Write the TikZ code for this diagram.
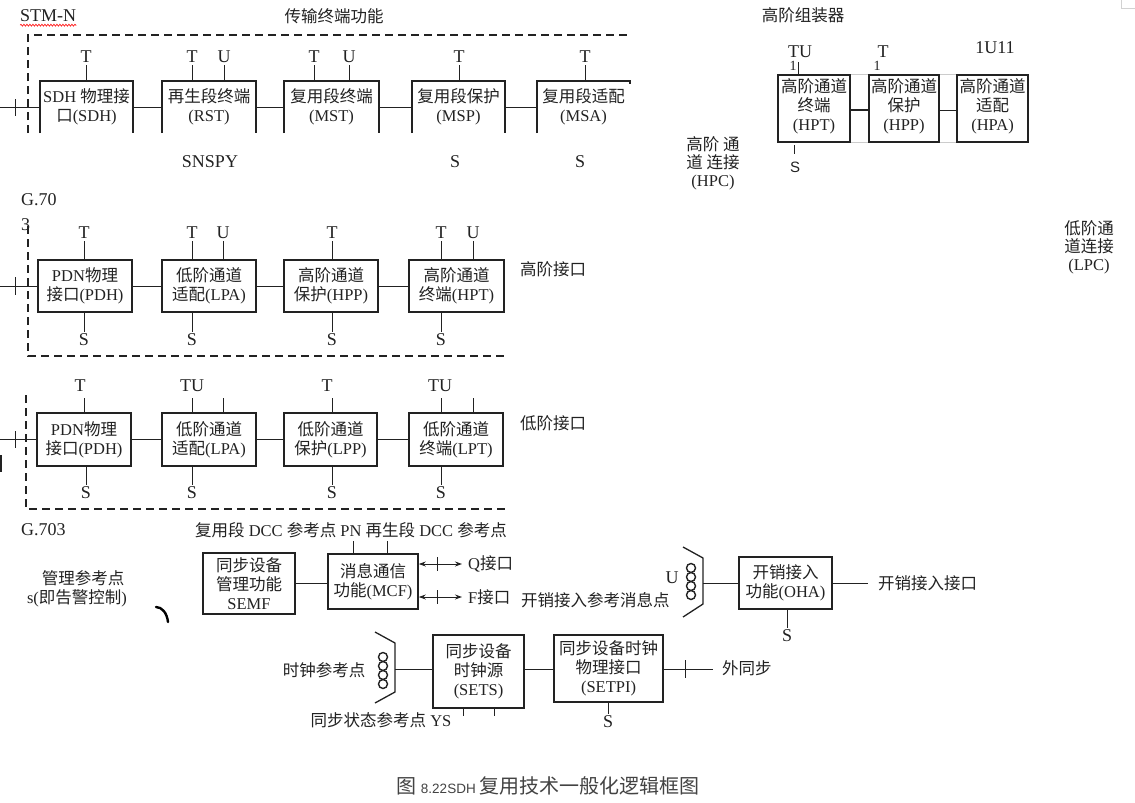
\documentclass[tikz,border=0pt]{standalone}
\usepackage{fontspec}
\setmainfont{Liberation Serif}
\newfontfamily\cjk{Noto Sans CJK SC}
\newfontfamily\lsans{Liberation Sans}
\usetikzlibrary{arrows.meta,decorations.pathmorphing}
\newcommand\zh[1]{{\cjk #1}}
\newcommand\fsz{\fontsize{16.5}{19}\selectfont}
\definecolor{ink}{HTML}{222222}
\tikzset{
  every node/.style={font=\fsz, text=ink, inner sep=0pt},
  blk/.style={draw=ink, line width=1.6pt, align=center},
  openbox/.style={align=center},
  conn/.style={draw=ink, line width=1pt},
  frame/.style={draw=ink, line width=1.8pt, dash pattern=on 8pt off 5pt},
  big/.style={font=\fontsize{18}{20}\selectfont},
  dblarrow/.style={conn, {Stealth[length=7pt,width=5pt]}-{Stealth[length=7pt,width=5pt]}},
  coilc/.style={draw=ink, line width=1.4pt},
  faint/.style={draw=gray!40, line width=0.8pt}
}
\begin{document}
\begin{tikzpicture}[x=1pt,y=-1pt]
\useasboundingbox (0,0) rectangle (1135,803);
\fill[white] (0,0) rectangle (1135,803);
\draw[gray!35, line width=0.8pt] (1121,-2) rectangle (1137,8);

% ===================== Row 1 : STM-N =====================
\node[anchor=west, big] (stmn) at (20,16) {STM-N};
\draw[red, line width=0.6pt, decorate, decoration={snake, amplitude=1pt, segment length=3pt}] ([yshift=-3pt]stmn.south west) -- ([yshift=-3pt]stmn.south east);
\node (title1) at (334,16) {\zh{传输终端功能}};
\draw[frame] (28,133) -- (28,35) -- (630,35);

\node[openbox, minimum width=93, minimum height=52] (sdh) at (86.5,107) {SDH \zh{物理接}\\\zh{口}(SDH)};
\node[openbox, minimum width=94, minimum height=52] (rst) at (209,107) {\zh{再生段终端}\\(RST)};
\node[openbox, minimum width=95, minimum height=52] (mst) at (331.5,107) {\zh{复用段终端}\\(MST)};
\node[openbox, minimum width=93, minimum height=52] (msp) at (458.5,107) {\zh{复用段保护}\\(MSP)};
\node[openbox, minimum width=93, minimum height=52] (msa) at (583.5,107) {\zh{复用段适配}\\(MSA)};
\foreach \b in {sdh,rst,mst,msp}{
  \draw[draw=ink, line width=1.6pt] (\b.south west) -- (\b.north west) -- (\b.north east) -- (\b.south east);
}
\draw[draw=ink, line width=1.6pt] (msa.south west) -- (msa.north west) -- (msa.north east) -- ++(0,3);
\draw[conn] (sdh.east) -- (rst.west);
\draw[conn] (rst.east) -- (mst.west);
\draw[conn] (mst.east) -- (msp.west);
\draw[conn] (msp.east) -- (msa.west);
\coordinate (in1) at (0,107);
\draw[conn] (in1) -- (sdh.west);
\draw[conn] (15,99) -- (15,116);

\node[big] (t1a) at (86,57) {T};
\node[big] (t1b) at (192,57) {T};
\node[big] (u1b) at (224,57) {U};
\node[big] (t1c) at (314,57) {T};
\node[big] (u1c) at (349,57) {U};
\node[big] (t1d) at (459,57) {T};
\node[big] (t1e) at (585,57) {T};
\foreach \l/\b in {t1a/sdh,t1b/rst,u1b/rst,t1c/mst,u1c/mst,t1d/msp,t1e/msa}{
  \draw[conn] ([yshift=-2pt]\l.south) -- (\l.south |- \b.north);
}
\node[big] (snspy) at (210,162) {SNSPY};
\node[big] (s1d) at (455,162) {S};
\node[big] (s1e) at (580,162) {S};

% ===================== HPC assembler (top right) =====================
\node (hoa) at (803,15) {\zh{高阶组装器}};
\node[blk, line width=1.3pt, minimum width=72, minimum height=67] (hpt1) at (814,108.5) {};
\node[blk, line width=1.3pt, minimum width=70, minimum height=67] (hpp1) at (904,108.5) {};
\node[blk, line width=1.3pt, minimum width=71, minimum height=67] (hpa1) at (992.5,108.5) {};
\node[align=center, anchor=north] (hpt1t) at (814,78) {\zh{高阶通道}\\\zh{终端}\\(HPT)};
\node[align=center, anchor=north] (hpp1t) at (904,78) {\zh{高阶通道}\\\zh{保护}\\(HPP)};
\node[align=center, anchor=north] (hpa1t) at (992.5,78) {\zh{高阶通道}\\\zh{适配}\\(HPA)};
\draw[draw=ink, line width=2pt] ([yshift=-1.5pt]hpt1.east) -- ([yshift=-1.5pt]hpp1.west);
\draw[conn] ([yshift=-1.5pt]hpp1.east) -- ([yshift=-1.5pt]hpa1.west);
\draw[faint] (hpt1.north east) -- (hpp1.north west);
\draw[faint] (hpt1.south east) -- (hpp1.south west);
\draw[faint] (hpp1.north east) -- (hpa1.north west);
\draw[faint] (hpp1.south east) -- (hpa1.south west);
\node[big] (tu1) at (800,52) {TU};
\node[font=\fontsize{14}{16}\selectfont] (one1) at (793,66) {1};
\draw[draw=ink, line width=0.8pt] (798,62) -- (798,75);
\node[big] (t2) at (883,52) {T};
\node[font=\fontsize{14}{16}\selectfont] (one2) at (877,66) {1};
\node[big] (tu11) at (995,48) {1U11};
\draw[draw=ink, line width=0.8pt] (794,145) -- (794,154);
\node[font=\lsans\fontsize{15}{18}\selectfont] (shpt) at (795,167) {S};
\node[align=center, font=\fontsize{16.5}{18}\selectfont] (hpc) at (713,163) {\zh{高阶 通}\\\zh{道 连接}\\(HPC)};
\node[align=center, font=\fontsize{16.5}{18}\selectfont] (lpc) at (1089,247) {\zh{低阶通}\\\zh{道连接}\\(LPC)};

% ===================== Row 2 : high-order interface =====================
\node[anchor=west, big] (g70) at (21,200) {G.70};
\node[anchor=west, big] (g3) at (21,225) {3};
\draw[frame] (28,226) -- (28,356) -- (505,356);
\node[blk, minimum width=94, minimum height=52] (pdh2) at (85,286) {PDN\zh{物理}\\\zh{接口}(PDH)};
\node[blk, minimum width=94, minimum height=52] (lpa2) at (209,286) {\zh{低阶通道}\\\zh{适配}(LPA)};
\node[blk, minimum width=94, minimum height=52] (hpp2) at (331,286) {\zh{高阶通道}\\\zh{保护}(HPP)};
\node[blk, minimum width=95, minimum height=52] (hpt2) at (456.5,286) {\zh{高阶通道}\\\zh{终端}(HPT)};
\draw[conn] (pdh2.east) -- (lpa2.west);
\draw[conn] (lpa2.east) -- (hpp2.west);
\draw[conn] (hpp2.east) -- (hpt2.west);
\coordinate (in2) at (0,286);
\draw[conn] (in2) -- (pdh2.west);
\draw[conn] (15,277) -- (15,295);
\node[big] (t2a) at (84,233) {T};
\node[big] (t2b) at (192,233) {T};
\node[big] (u2b) at (223,233) {U};
\node[big] (t2c) at (332,233) {T};
\node[big] (t2d) at (441,233) {T};
\node[big] (u2d) at (473,233) {U};
\foreach \l/\b in {t2a/pdh2,t2b/lpa2,u2b/lpa2,t2c/hpp2,t2d/hpt2,u2d/hpt2}{
  \draw[conn] ([yshift=-2pt]\l.south) -- (\l.south |- \b.north);
}
\node[big] (s2a) at (84,340) {S};
\node[big] (s2b) at (192,340) {S};
\node[big] (s2c) at (332,340) {S};
\node[big] (s2d) at (441,340) {S};
\foreach \l/\b in {s2a/pdh2,s2b/lpa2,s2c/hpp2,s2d/hpt2}{
  \draw[conn] ([yshift=2pt]\l.north) -- (\l.north |- \b.south);
}
\node (hoif) at (553,269) {\zh{高阶接口}};

% ===================== Row 3 : low-order interface =====================
\draw[frame] (26,395) -- (26,509) -- (505,509);
\node[blk, minimum width=94, minimum height=53] (pdh3) at (84,439.5) {PDN\zh{物理}\\\zh{接口}(PDH)};
\node[blk, minimum width=94, minimum height=53] (lpa3) at (209,439.5) {\zh{低阶通道}\\\zh{适配}(LPA)};
\node[blk, minimum width=93, minimum height=53] (lpp3) at (330.5,439.5) {\zh{低阶通道}\\\zh{保护}(LPP)};
\node[blk, minimum width=94, minimum height=53] (lpt3) at (456,439.5) {\zh{低阶通道}\\\zh{终端}(LPT)};
\draw[conn] (pdh3.east) -- (lpa3.west);
\draw[conn] (lpa3.east) -- (lpp3.west);
\draw[conn] (lpp3.east) -- (lpt3.west);
\coordinate (in3) at (0,439.5);
\draw[conn] (in3) -- (pdh3.west);
\draw[conn] (15,431) -- (15,448);
\draw[draw=ink, line width=2.5pt] (1,455) -- (1,472);
\node[big] (t3a) at (80,386) {T};
\node[big] (t3b) at (192,386) {TU};
\node[big] (t3c) at (327,386) {T};
\node[big] (t3d) at (440,386) {TU};
\foreach \x/\b in {84/pdh3,192/lpa3,223/lpa3,332/lpp3,441/lpt3,473/lpt3}{
  \draw[conn] (\x,398) -- (\x,0 |- \b.north);
}
\node[big] (s3a) at (86,493) {S};
\node[big] (s3b) at (192,493) {S};
\node[big] (s3c) at (332,493) {S};
\node[big] (s3d) at (441,493) {S};
\foreach \l/\b in {s3a/pdh3,s3b/lpa3,s3c/lpp3,s3d/lpt3}{
  \draw[conn] ([yshift=2pt]\l.north) -- (\l.north |- \b.south);
}
\node (loif) at (553,423) {\zh{低阶接口}};

% ===================== Bottom : management / clock =====================
\node[anchor=west, big] (g703) at (21,530) {G.703};
\node (dcc) at (351,530) {\zh{复用段} DCC \zh{参考点} PN \zh{再生段} DCC \zh{参考点}};
\node[blk, minimum width=92, minimum height=61] (semf) at (249,583.5) {\zh{同步设备}\\\zh{管理功能}\\SEMF};
\node[blk, minimum width=90, minimum height=55] (mcf) at (373,581.5) {\zh{消息通信}\\\zh{功能}(MCF)};
\draw[conn] (semf.east) -- (semf.east -| mcf.west);
\draw[conn] (353,541) -- (353,0 |- mcf.north);
\draw[conn] (387,541) -- (387,0 |- mcf.north);

\node[anchor=west] (qif) at (468,564) {Q\zh{接口}};
\node[anchor=west] (fif) at (468,597) {F\zh{接口}};
\coordinate (qe) at (462,564);
\coordinate (fe) at (462,597);
\draw[dblarrow] (mcf.east |- qe) -- (qe);
\draw[dblarrow] (mcf.east |- fe) -- (fe);
\draw[conn] (437,557) -- (437,571);
\draw[conn] (437,590) -- (437,604);
\node[anchor=west] (ohref) at (521,600) {\zh{开销接入参考消息点}};
\node[big] (ulab) at (672,578) {U};
% coil U
\foreach \yy in {568,577,586,595}{ \draw[coilc] (691,\yy) circle (4.5); }
\draw[draw=ink, line width=1.3pt] (683,547) -- (703,558) -- (703,604) -- (683,617);
\coordinate (ubr) at (703,583);
\node[blk, minimum width=93, minimum height=52] (oha) at (785.5,583) {\zh{开销接入}\\\zh{功能}(OHA)};
\draw[conn] (ubr) -- (oha.west);
\coordinate (ohaend) at (868,583);
\draw[conn] (oha.east) -- (ohaend);
\node[anchor=west] (ohaif) at (878,583) {\zh{开销接入接口}};
\node[big] (soha) at (787,636) {S};
\draw[conn] (soha.north |- oha.south) -- ([yshift=2pt]soha.north);

\node (mgmt1) at (83,578) {\zh{管理参考点}};
\node (mgmt2) at (77,598) {s(\zh{即告警控制})};
\draw[draw=black, line width=2.4pt, line cap=round] (156,607) .. controls (162,607) and (167,613) .. (168,622);

% clock
\node (clkref) at (324,670) {\zh{时钟参考点}};
\foreach \yy in {657,666,675,684}{ \draw[coilc] (383,\yy) circle (4.5); }
\draw[draw=ink, line width=1.3pt] (375,632) -- (395,643) -- (395,692) -- (375,703);
\coordinate (cbr) at (395,669);
\node[blk, minimum width=91, minimum height=73] (sets) at (478.5,671.5) {\zh{同步设备}\\\zh{时钟源}\\(SETS)};
\node[blk, minimum width=109, minimum height=67] (setpi) at (608.5,668.5) {\zh{同步设备时钟}\\\zh{物理接口}\\(SETPI)};
\draw[conn] (cbr) -- (sets.west |- cbr);
\draw[conn] (sets.east |- cbr) -- (setpi.west |- cbr);
\coordinate (extend) at (713,669);
\draw[conn] (setpi.east |- extend) -- (extend);
\draw[conn] (685,660) -- (685,678);
\node[anchor=west] (extsync) at (722,668) {\zh{外同步}};
\draw[conn] (463,0 |- sets.south) -- (463,716);
\draw[conn] (494,0 |- sets.south) -- (494,716);
\node (ysref) at (381,720) {\zh{同步状态参考点} YS};
\node[big] (ssetpi) at (608,722) {S};
\draw[conn] (ssetpi.north |- setpi.south) -- ([yshift=2pt]ssetpi.north);

% caption
\node[text=ink!85] (cap) at (548,786) {{\cjk\fontsize{20}{22}\selectfont 图 }{\lsans\fontsize{13.5}{15}\selectfont 8.22SDH }{\cjk\fontsize{20}{22}\selectfont 复用技术一般化逻辑框图}};
\end{tikzpicture}
\end{document}
